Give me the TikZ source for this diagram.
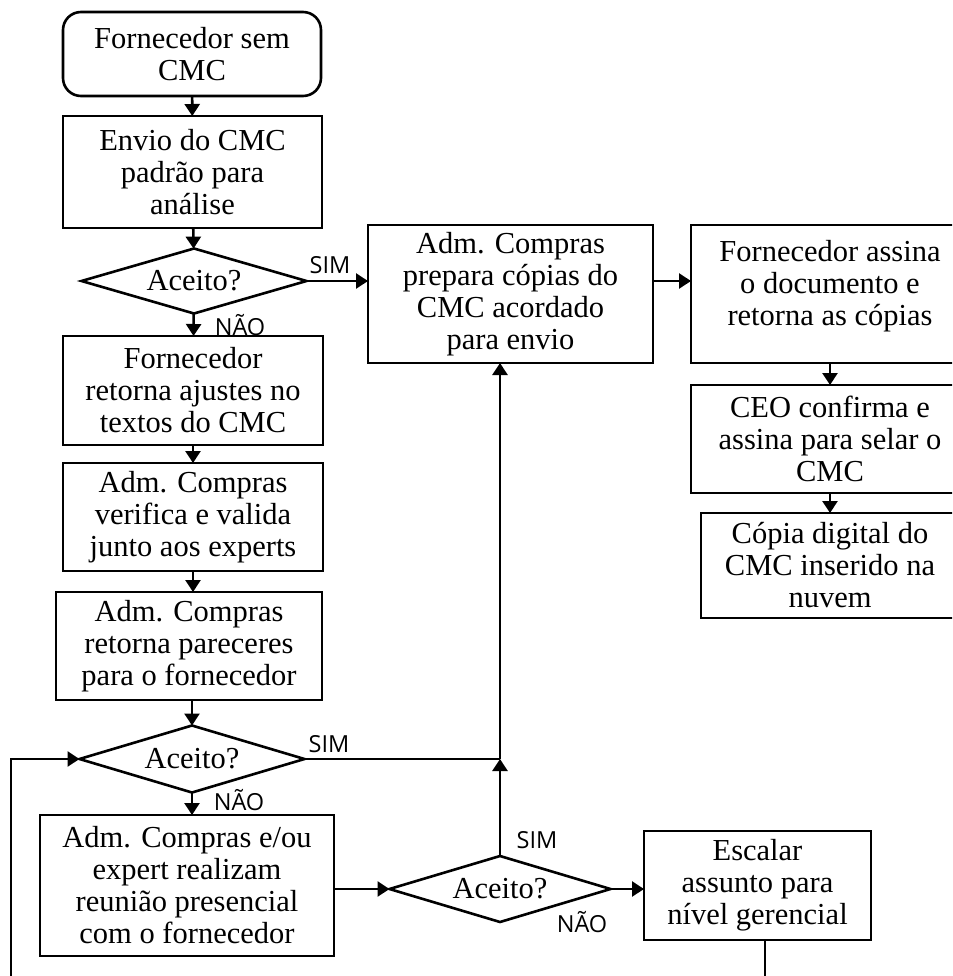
\documentclass[tikz,border=0pt]{standalone}
\usepackage{fontspec}
\setmainfont{Liberation Serif}
\newfontfamily\lblfont{Open Sans}
\usetikzlibrary{shapes.geometric,arrows.meta}
\begin{document}
\begin{tikzpicture}[x=1pt,y=-1pt,
  every node/.style={inner sep=0pt,outer sep=0pt},
  txt/.style={font=\fontsize{30.5}{32}\selectfont,align=center},
  procbox/.style={txt,draw,line width=2.6pt,rectangle},
  decis/.style={txt,draw,line width=2.6pt,diamond,aspect=3.4},
  lbl/.style={font=\lblfont\fontsize{23.5}{25}\selectfont},
  arr/.style={line width=2.6pt,-{Triangle[length=12pt,width=15pt]}},
  ln/.style={line width=2.6pt}]
\useasboundingbox (0,0) rectangle (952,976);
\clip (0,0) rectangle (952,976);
\fill[white] (0,0) rectangle (952,976);

\node[procbox,rounded corners=18pt,minimum width=258pt,minimum height=84pt] (start) at (192,54) {Fornecedor sem\\CMC};
\node[procbox,minimum width=259pt,minimum height=112pt] (envio) at (192.5,172) {Envio do CMC\\padrão para\\análise};
\node[decis,minimum width=225pt,minimum height=65pt] (d1) at (194,281) {Aceito?};
\node[procbox,minimum width=260pt,minimum height=109pt] (ajustes) at (193,390.5) {Fornecedor\\retorna ajustes no\\textos do CMC};
\node[procbox,minimum width=260pt,minimum height=108pt] (valida) at (193,517) {Adm. Compras\\verifica e valida\\junto aos experts};
\node[procbox,minimum width=266pt,minimum height=108pt] (parec) at (189,646) {Adm. Compras\\retorna pareceres\\para o fornecedor};
\node[decis,minimum width=225pt,minimum height=67pt] (d2) at (192,759) {Aceito?};
\node[procbox,minimum width=294pt,minimum height=141pt] (reuniao) at (187,885.5) {Adm. Compras e/ou\\expert realizam\\reunião presencial\\com o fornecedor};
\node[decis,minimum width=221pt,minimum height=66pt] (d3) at (500,889) {Aceito?};
\node[procbox,minimum width=227pt,minimum height=109pt] (escalar) at (757.5,885.5) {Escalar\\assunto para\\nível gerencial};
\node[procbox,minimum width=285pt,minimum height=138pt] (prepara) at (510.5,294) {Adm. Compras\\prepara cópias do\\CMC acordado\\para envio};
\node[procbox,minimum width=278pt,minimum height=138pt] (assina) at (830,294) {};
\node[txt] (assinatxt) at (830,286) {Fornecedor assina\\o documento e\\retorna as cópias};
\node[procbox,minimum width=278pt,minimum height=108pt] (ceo) at (830,439) {CEO confirma e\\assina para selar o\\CMC};
\node[procbox,minimum width=258pt,minimum height=105pt] (copia) at (830,565.5) {Cópia digital do\\CMC inserido na\\nuvem};

\coordinate (j) at (500,759);
\coordinate (fbtop) at (11,759);
\coordinate (fbbot) at (11,980);
\coordinate (esctop) at (765,940);
\coordinate (escbot) at (765,980);

\draw[arr] (start) -- (envio);
\draw[arr] (envio) -- (d1);
\draw[arr] (d1) -- (ajustes);
\draw[arr] (ajustes) -- (valida);
\draw[arr] (valida) -- (parec.north -| valida);
\draw[arr] (parec.south -| d2) -- (d2);
\draw[arr] (d2) -- (reuniao.north -| d2);
\draw[arr] (d1.east) -- (prepara.west |- d1.east);
\draw[arr] (prepara.east |- d1.east) -- (assina.west |- d1.east);
\draw[arr] (assina) -- (ceo);
\draw[arr] (ceo) -- (copia);
\draw[ln] (d2.east) -- (j);
\draw[arr] (j) -- (prepara.south -| j);
\draw[arr] (d3.north) -- (j);
\draw[arr] (reuniao.east |- d3.west) -- (d3.west);
\draw[arr] (d3.east) -- (escalar.west |- d3.east);
\draw[arr] (fbbot) -- (fbtop) -- (d2.west);
\draw[line width=1.4pt] (esctop) -- (escbot);

\node[lbl] (l1) at (330,265) {SIM};
\node[lbl] (l2) at (240,325) {NÃO};
\node[lbl] (l3) at (329,744) {SIM};
\node[lbl] (l4) at (239,800) {NÃO};
\node[lbl] (l5) at (537,840) {SIM};
\node[lbl] (l6) at (582,922) {NÃO};
\end{tikzpicture}
\end{document}
